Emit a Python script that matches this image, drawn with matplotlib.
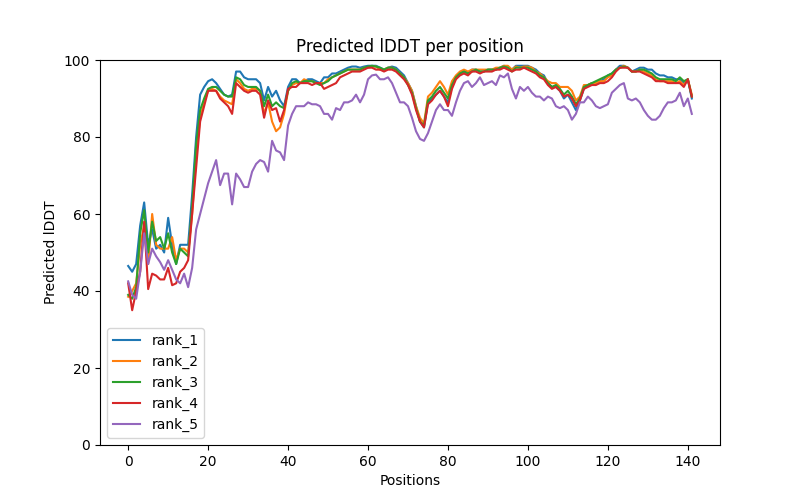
import matplotlib
matplotlib.use("Agg")
import matplotlib.pyplot as plt
import numpy as np

rank_1 = [46.5, 45, 47, 57, 63, 52, 56, 51, 52, 50,
          59, 52, 47, 52, 52, 52, 65, 80, 91, 93,
          94.5, 95, 94, 92.5, 91, 90.5, 91, 97, 97, 95.5,
          95, 95, 95, 94, 89.5, 93, 90.5, 92, 89.5, 88,
          93, 95, 95, 94, 94.5, 95, 95, 94.5, 94, 95.5,
          95.5, 96.5, 96.5, 97, 97.5, 98, 98.3, 98.3, 98, 98.3,
          98.5, 98.5, 98.5, 98, 97.5, 98, 98.3, 98, 97, 96,
          94, 92, 88, 84, 82.5, 89, 90, 91, 92, 90.5,
          89, 93, 95.5, 96.5, 97, 96.5, 97.5, 97.5, 97, 97,
          97.5, 97.5, 97.5, 98, 98.5, 98, 97.5, 98.5, 98.5, 98.5,
          98.5, 98, 97.5, 96.5, 96, 94, 93, 93, 92, 90,
          91, 89, 87, 89.5, 92.5, 93.5, 94, 94, 94.5, 95,
          96, 96.5, 97.5, 98.5, 98.5, 98, 97, 97.5, 98, 98,
          97.5, 97.5, 96.5, 96, 96, 95.5, 95.5, 95, 95, 94,
          95, 90]

rank_2 = [38.5, 40, 42, 52, 57, 47, 60, 52, 51, 51,
          51, 54, 48, 51, 51, 50, 60, 75, 85, 89,
          92, 92.5, 92, 90.5, 89.5, 89, 88.5, 95, 94, 92.5,
          92, 92.5, 92.5, 92, 86, 89, 84, 81.5, 82.5, 86,
          92, 93.5, 94, 94, 95, 94.5, 94.5, 94, 94, 94,
          95, 95.5, 96, 96.5, 97, 97.5, 97.5, 97.5, 97.5, 98,
          98, 98.3, 98.3, 97.5, 97.5, 98, 98, 97.5, 96.5, 95.5,
          94, 92, 88, 85, 83.5, 90.5, 91.5, 93, 94.5, 93,
          91, 94.5, 96, 97, 97.5, 97, 97.5, 97.5, 97.5, 97.5,
          97.5, 97.5, 98, 98, 98.5, 98.5, 97.5, 98.3, 98, 98.3,
          98.3, 98, 97, 96.5, 95.5, 94.5, 94, 94, 93, 93,
          93, 92, 89.5, 90.5, 93.5, 93.5, 94, 94, 94.5, 94.5,
          95.5, 96, 97.5, 98, 98.5, 98, 97, 97, 97.5, 97,
          96.5, 96, 95, 94.5, 94.5, 94.5, 94.5, 94, 94.5, 93.5,
          95, 91]

rank_3 = [39, 38, 41, 55, 61, 50, 58, 53, 54, 51,
          55, 50, 47, 51, 50, 49, 62, 78, 87, 90,
          92.5, 93, 93, 92, 91, 90.5, 90.5, 95.5, 95, 93.5,
          93, 93, 93, 92, 88, 91, 88, 89, 88, 87.5,
          92, 94, 94.5, 94, 94.5, 94.5, 94.5, 94, 93.5, 94,
          94.5, 95.5, 96, 96.5, 97, 97.5, 97.5, 97.5, 97.5, 98,
          98.3, 98.5, 98.3, 98, 97.5, 98, 98, 97.5, 96.5, 95.5,
          93.5, 91.5, 87.5, 84, 83, 89.5, 90.5, 92, 93, 91.5,
          90, 93.5, 95.5, 96.5, 97, 96.5, 97, 97.5, 97, 97,
          97.5, 97.5, 97.5, 98, 98.3, 98, 97, 98, 98, 98,
          98, 97.5, 97, 96, 95.5, 94, 93, 93.5, 92.5, 91,
          92, 90.5, 88.5, 90, 93, 93.5, 94, 94.5, 95, 95.5,
          96, 96.5, 97.5, 98, 98.3, 98, 97, 97, 97.5, 97.5,
          97, 96.5, 95.5, 95, 95, 95, 95, 94.5, 95.5, 94.5,
          95, 90.5]

rank_4 = [42, 35, 40, 45, 58, 40.5, 44.5, 44, 43, 43,
          46, 41.5, 42, 45, 46, 48, 60, 72, 84, 88,
          92, 92, 92, 90, 89, 88, 86, 94, 93, 92,
          91.5, 92, 92, 91, 85, 89.5, 87, 87.5, 84, 87,
          92.5, 93, 93, 94, 94, 94, 93.5, 94, 94, 92.5,
          93, 93.5, 94, 95.5, 96, 96.5, 97, 97, 97, 97.5,
          98, 98, 97.5, 97.5, 97, 97.5, 97.5, 97, 96, 95,
          93.5, 91, 87, 84, 82.5, 88.5, 89.5, 91, 92, 90.5,
          88, 92.5, 95, 96, 96.5, 96, 97, 97, 96.5, 97,
          97, 97, 97.5, 97.5, 98, 97.5, 97, 97.5, 97.5, 98,
          97.5, 97, 96.5, 95.5, 95, 93.5, 92.5, 93, 92, 90.5,
          91, 90, 88, 89.5, 92.5, 93, 93.5, 93.5, 94, 94,
          94.5, 95.5, 97, 98, 98, 98, 97, 97, 97, 96.5,
          96, 95.5, 94.5, 94.5, 94.5, 94, 94, 94, 94, 93,
          95, 90.5]

rank_5 = [42.5, 39, 38, 45, 55, 47, 51, 49, 47.5, 45.5,
          48, 45.5, 43, 42, 44.5, 41, 46, 56, 60, 64,
          68, 71, 74, 67.5, 70.5, 70.5, 62.5, 70.5, 69, 67,
          67, 71, 73, 74, 73.5, 71, 79, 76.5, 76, 74,
          83, 86, 88, 88, 88, 89, 88.5, 88.5, 88, 86,
          86, 84.5, 87.5, 87, 89, 89, 89.5, 91, 89, 91,
          95, 96, 96.2, 95, 95, 95.5, 94, 91.5, 89, 89,
          88, 85, 81.5, 79.5, 79, 81, 84, 87, 88.5, 87,
          87, 85.5, 89, 92, 94, 94.5, 93, 94, 95.5, 93.5,
          94, 94.5, 93.5, 96, 95.5, 96.5, 92.5, 90, 93, 92,
          93, 91.5, 90.5, 90.5, 89.5, 90.5, 90, 88, 87.5, 88,
          87, 84.5, 86, 89, 89, 90.5, 89.5, 88, 87.5, 88,
          88.5, 91.5, 92.5, 93.5, 94, 90, 89.5, 90, 89, 87,
          85.5, 84.5, 84.5, 85.5, 87.5, 89, 89, 89.5, 91.5, 88,
          90, 86]

series = {"rank_1": rank_1, "rank_2": rank_2, "rank_3": rank_3,
          "rank_4": rank_4, "rank_5": rank_5}

fig, ax = plt.subplots(figsize=(8, 5), dpi=100)
for name, vals in series.items():
    ax.plot(np.arange(len(vals)), vals, label=name)
ax.set_ylim(0, 100)
ax.set_title("Predicted lDDT per position")
ax.set_xlabel("Positions")
ax.set_ylabel("Predicted lDDT")
ax.legend(loc="lower left")
fig.savefig("out.png", dpi=100)
